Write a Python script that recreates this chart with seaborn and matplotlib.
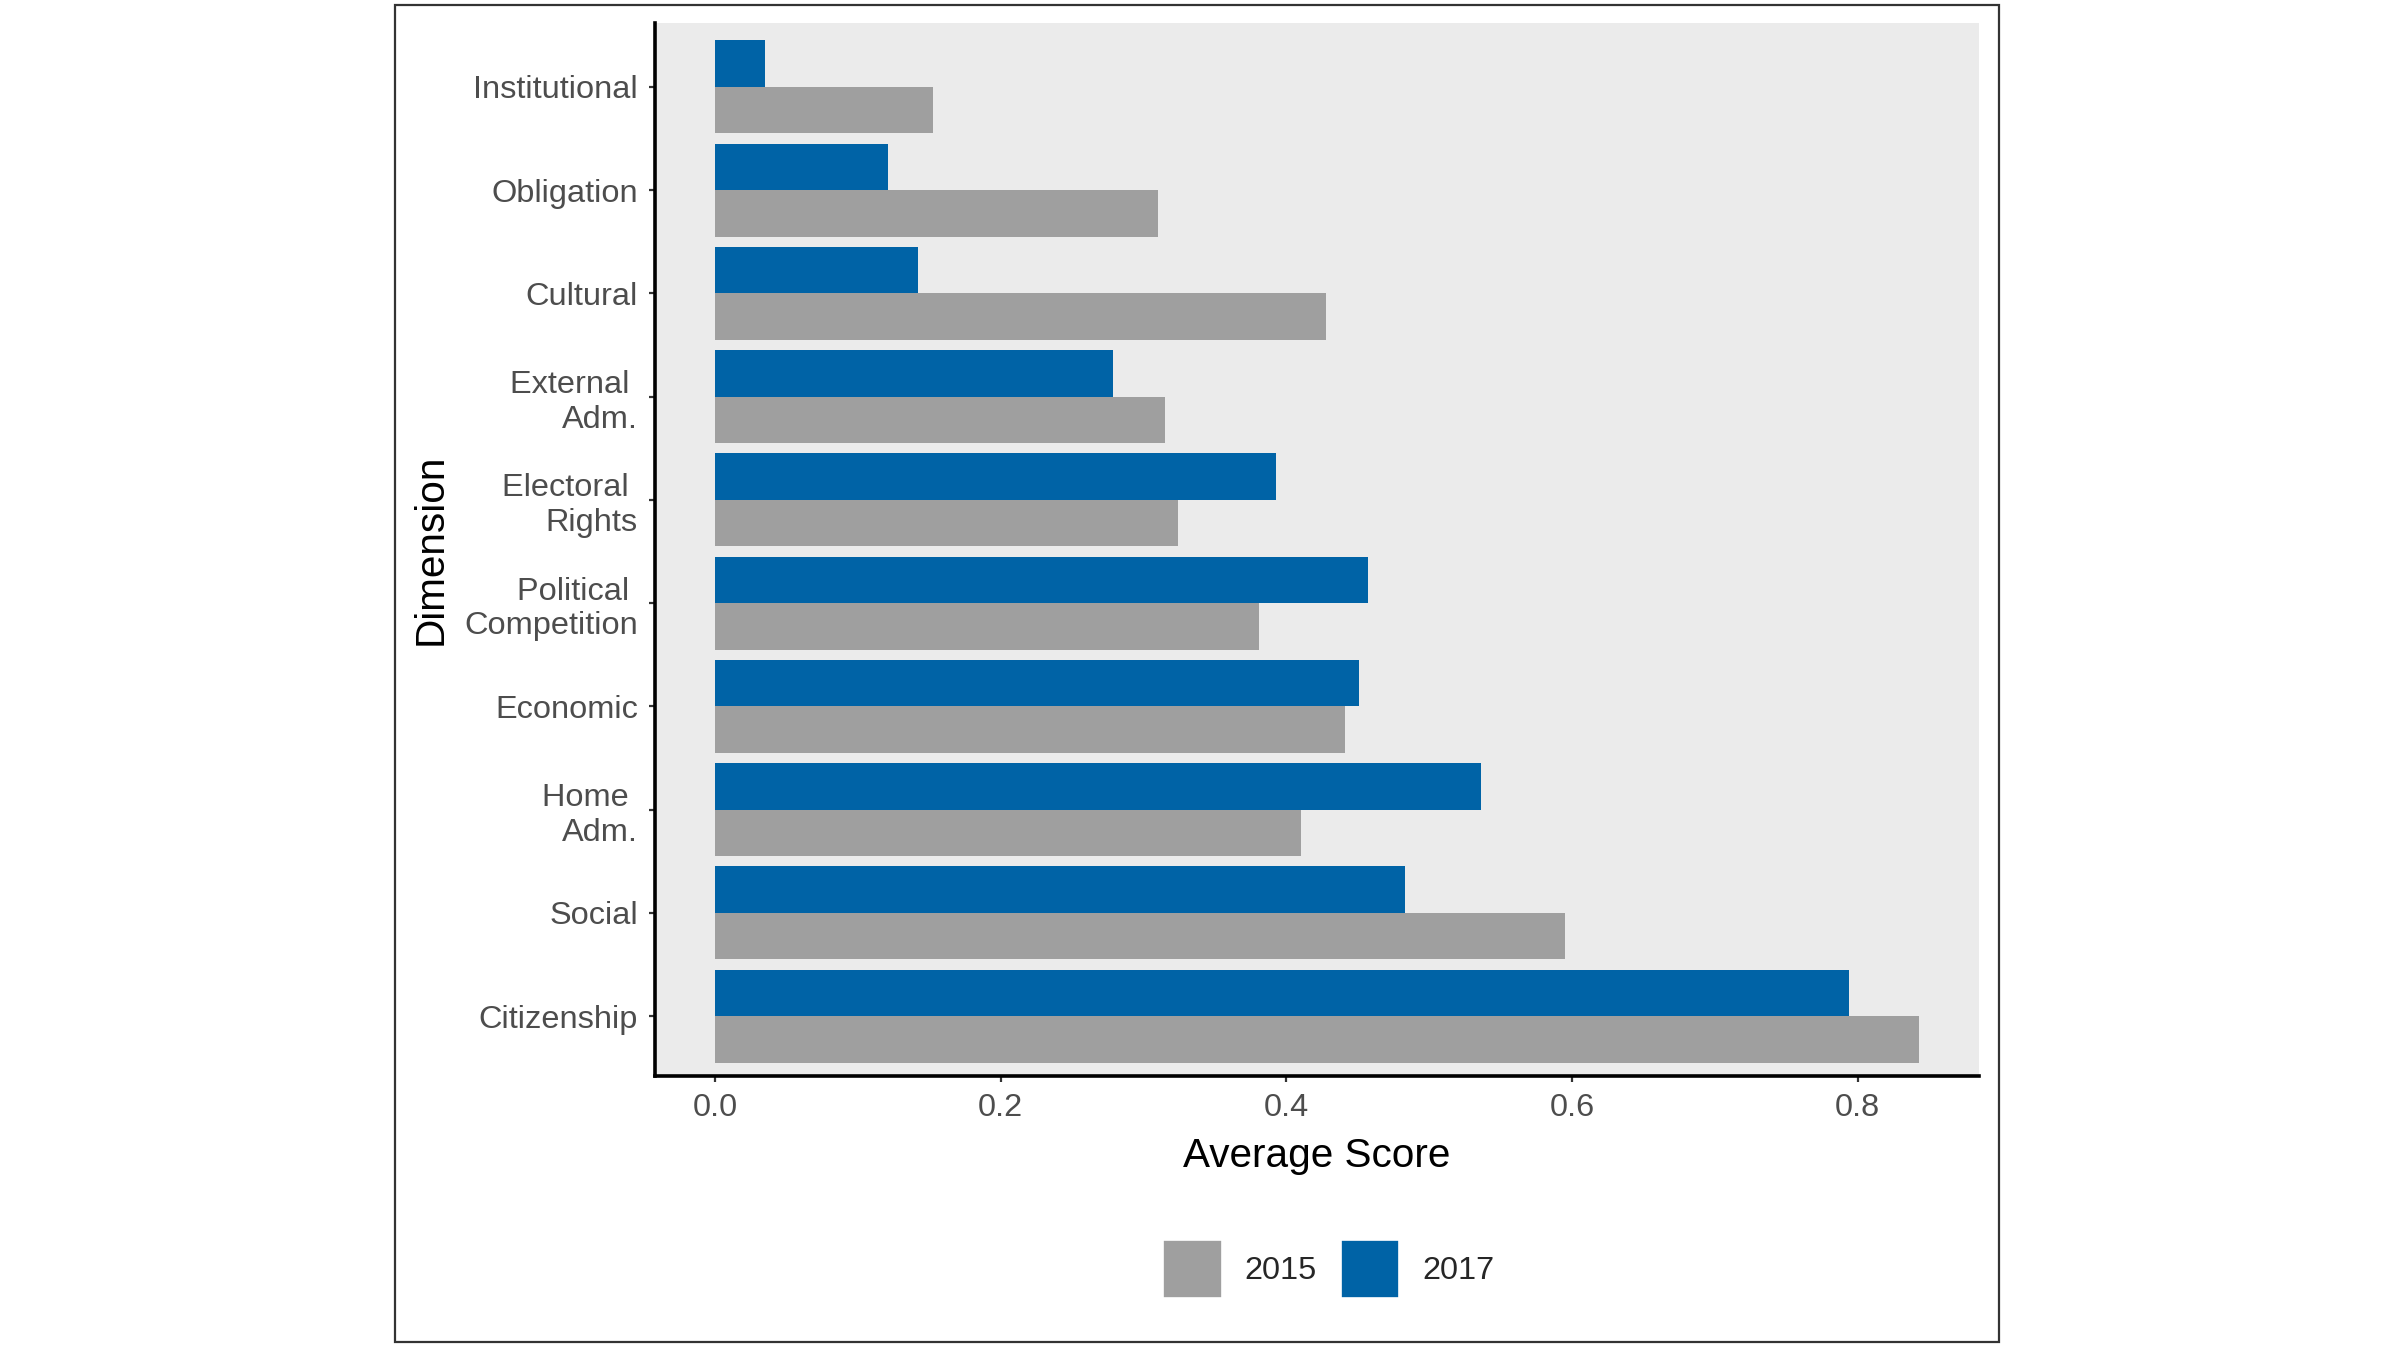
import matplotlib
matplotlib.use("Agg")

import matplotlib.pyplot as plt
from matplotlib.patches import Patch, Rectangle
import pandas as pd
import seaborn as sns

# ── Data ──
dimensions = [
    "Institutional", "Obligation", "Cultural", "External \nAdm.",
    "Electoral \nRights", "Political \nCompetition", "Economic",
    "Home \nAdm.", "Social", "Citizenship",
]
score_2015 = [0.153, 0.310, 0.428, 0.315, 0.324, 0.381, 0.441, 0.410, 0.595, 0.843]
score_2017 = [0.035, 0.121, 0.142, 0.279, 0.393, 0.457, 0.451, 0.536, 0.483, 0.794]
years = ["2015", "2017"]
year_colors = {"2015": "#9F9F9F", "2017": "#0063A6"}

df = pd.concat([
    pd.DataFrame({"Dimension": dimensions, "Year": "2015", "Score": score_2015}),
    pd.DataFrame({"Dimension": dimensions, "Year": "2017", "Score": score_2017}),
])

# ── Style ──
sns.set_theme(style="white")
plt.rcParams["font.family"] = ["Liberation Sans", "DejaVu Sans"]

fig = plt.figure(figsize=(12, 6.75), dpi=200)
ax = fig.add_axes([0.273, 0.203, 0.5516, 0.780])
ax.set_facecolor("#EBEBEB")

# 2017 drawn first so it sits on top within each group
sns.barplot(data=df, y="Dimension", x="Score", hue="Year", hue_order=["2017", "2015"],
            order=dimensions, palette=year_colors, saturation=1, width=0.9, orient="h",
            linewidth=0, ax=ax, legend=False)

ax.set_xlim(-0.0418, 0.885)
ax.set_ylim(len(dimensions) - 1 + 0.58, -0.62)
ax.set_xticks([0.0, 0.2, 0.4, 0.6, 0.8])
ax.set_xticklabels(["0.0", "0.2", "0.4", "0.6", "0.8"])

for side in ["top", "right"]:
    ax.spines[side].set_visible(False)
for side in ["left", "bottom"]:
    ax.spines[side].set_color("black")
    ax.spines[side].set_linewidth(1.3)

ax.tick_params(axis="both", which="major", length=2.2, width=0.8, color="#333333",
               labelsize=11.7, labelcolor="#4D4D4D", pad=4, left=True, bottom=True)
ax.grid(False)

ax.set_xlabel("Average Score", fontsize=14.6, color="black")
ax.set_ylabel("Dimension", fontsize=14.6, color="black")
ax.xaxis.set_label_coords(0.5, -0.0757)
ax.xaxis.label.set_va("center")
ax.yaxis.set_label_coords(-0.170, 0.5)
ax.yaxis.label.set_va("center")

# ── Legend (2015 first) ──
handles = [Patch(facecolor=year_colors[y], edgecolor="white", linewidth=0.6) for y in years]
fig.legend(handles, years, loc="center", bbox_to_anchor=(0.5536, 0.060), ncol=2,
           frameon=False, fontsize=11.7, handlelength=1.8, handleheight=2.4,
           handletextpad=0.7, columnspacing=0.75, borderpad=0.2)

# ── Outer border ──
fig.patches.append(Rectangle((0.1645, 0.0057), 0.6684, 0.9909, transform=fig.transFigure,
                             fill=False, edgecolor="#333333", linewidth=0.8))

fig.savefig("out.png", dpi=200, facecolor="white")
